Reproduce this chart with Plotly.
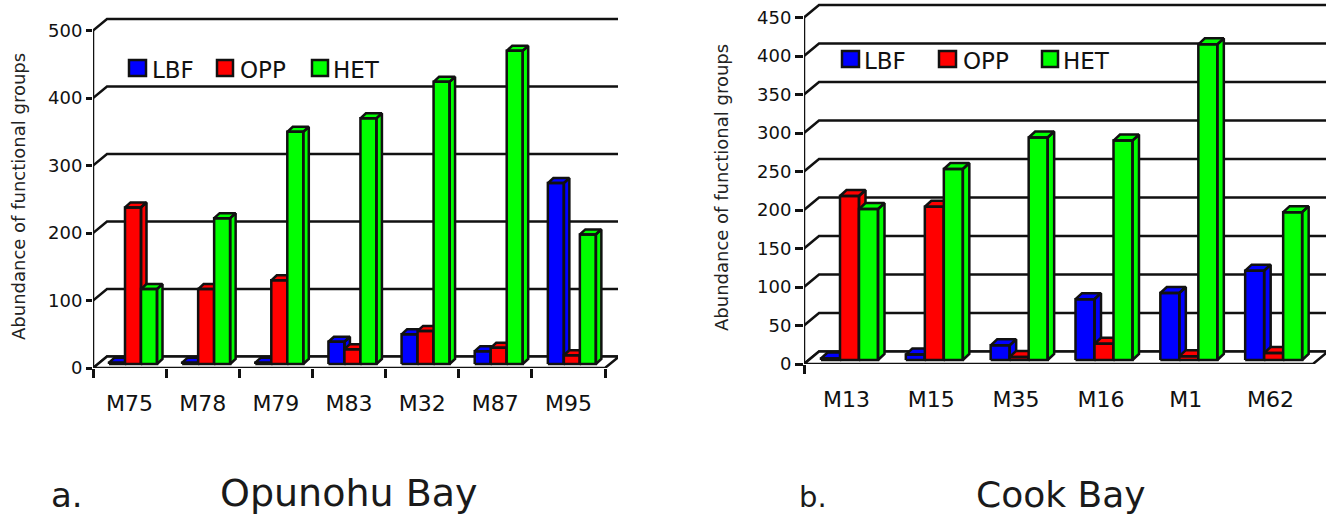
import plotly.graph_objects as go

W, H = 1330, 516

# ---- data ----
sites_a = ["M75", "M78", "M79", "M83", "M32", "M87", "M95"]
lbf_a = [2, 2, 2, 33, 44, 19, 268]
opp_a = [232, 111, 124, 22, 49, 24, 13]
het_a = [111, 216, 344, 364, 418, 464, 192]
yticks_a = [0, 100, 200, 300, 400, 500]

sites_b = ["M13", "M15", "M35", "M16", "M1", "M62"]
lbf_b = [2, 7, 19, 79, 87, 116]
opp_b = [213, 199, 4, 21, 5, 9]
het_b = [196, 248, 289, 285, 410, 192]
yticks_b = [0, 50, 100, 150, 200, 250, 300, 350, 400, 450]

groups = ["LBF", "OPP", "HET"]
colors = ["#0000ff", "#ff0000", "#00ff00"]
INK = "#111111"
FONT = "DejaVu Sans, Verdana, sans-serif"
LW = 2.5

fig = go.Figure()


def px_x(p):
    return p / W


def px_y(p):
    return 1 - p / H


def panel(ax, sites, series, yticks, box, geom, tick_at, legend_px, label_standoff):
    """box = pixel left, top, right, bottom of the plot; geom = pixel sizes of the 3-D look."""
    left, top, right, bottom = box
    front_right = geom["front_right"]
    ymax = yticks[-1]
    n = len(sites)
    sx = (front_right - left) / n            # pixels per category
    sy = geom["sy"]                          # pixels per unit
    dx = geom["wall_dx"] / sx
    dy = geom["wall_dy"] / sy
    xmax = (right - left) / sx
    ytop = (bottom - top) / sy
    suffix = "" if ax == 1 else str(ax)
    xa, ya = "x" + suffix, "y" + suffix

    # walls, grid, floor
    gx, gy = [], []
    for v in yticks:
        gx += [0, dx, xmax, None]
        gy += [v, v + dy, v + dy, None]
    fig.add_trace(go.Scatter(x=gx, y=gy, mode="lines", xaxis=xa, yaxis=ya, showlegend=False,
                             hoverinfo="skip", line=dict(color=INK, width=LW)))
    fig.add_trace(go.Scatter(x=[0, 0], y=[0, ymax], mode="lines", xaxis=xa, yaxis=ya, showlegend=False,
                             hoverinfo="skip", line=dict(color=INK, width=LW)))
    fig.add_trace(go.Scatter(x=[0, n, n + dx, dx, 0], y=[0, 0, dy, dy, 0], mode="lines", xaxis=xa, yaxis=ya,
                             showlegend=False, hoverinfo="skip", fill="toself", fillcolor="white",
                             line=dict(color=INK, width=LW)))

    # bars: front, side and top face, all derived from the values
    off = geom["bar_off"] / sx
    bw = geom["bar_w"] / sx
    lift = geom["bar_lift"] / sy
    bdx = geom["bar_dx"] / sx
    bdy = geom["bar_dy"] / sy
    for k, vals in enumerate(series):
        xs, ys = [], []
        for i, v in enumerate(vals):
            x0 = i + off + k * bw
            x1 = x0 + bw
            y0 = lift
            y1 = lift + v
            xs += [x1, x1 + bdx, x1 + bdx, x1, x1, None]
            ys += [y0, y0 + bdy, y1 + bdy, y1, y0, None]
            xs += [x0, x0 + bdx, x1 + bdx, x1, x0, None]
            ys += [y1, y1 + bdy, y1 + bdy, y1, y1, None]
            xs += [x0, x1, x1, x0, x0, None]
            ys += [y0, y0, y1, y1, y0, None]
        fig.add_trace(go.Scatter(x=xs, y=ys, mode="lines", fill="toself", fillcolor=colors[k], name=groups[k],
                                 xaxis=xa, yaxis=ya, showlegend=False, hoverinfo="skip",
                                 line=dict(color=INK, width=LW)))

    fig.update_layout({
        "xaxis" + suffix: dict(
            domain=[px_x(left), px_x(right)], range=[0, xmax], anchor=ya, showgrid=False, zeroline=False,
            showline=False, automargin=False, tickmode="array", tickvals=[i + 0.5 for i in range(n)],
            ticktext=sites, ticks="", ticklabelstandoff=label_standoff,
            tickfont=dict(family=FONT, size=22, color=INK),
            minor=dict(tickmode="array", tickvals=tick_at, ticks="outside", ticklen=9, tickwidth=LW,
                       tickcolor=INK, showgrid=False),
        ),
        "yaxis" + suffix: dict(
            domain=[px_y(bottom), px_y(top)], range=[0, ytop], anchor=xa, showgrid=False, zeroline=False,
            showline=False, automargin=False, tickmode="array", tickvals=yticks, ticks="outside",
            ticklen=geom["ticklen"], tickwidth=LW, tickcolor=INK, tickfont=dict(family=FONT, size=18, color=INK),
        ),
    })

    # y title
    fig.add_annotation(text="Abundance of functional groups", xref="paper", yref="paper",
                       x=px_x(geom["title_x"]), y=px_y(geom["title_y"]), textangle=-90,
                       xanchor="center", yanchor="middle", showarrow=False,
                       font=dict(family=FONT, size=18, color="#222222"))

    # legend keys
    for k, (sw0, sw1, ty, lab_x) in enumerate(legend_px):
        fig.add_shape(type="rect", xref="paper", yref="paper", x0=px_x(sw0), x1=px_x(sw1),
                      y0=px_y(ty + 8), y1=px_y(ty - 8), fillcolor=colors[k], line=dict(color=INK, width=LW))
        fig.add_annotation(text=groups[k], xref="paper", yref="paper", x=px_x(lab_x), y=px_y(ty + 2),
                           xanchor="left", yanchor="middle", showarrow=False,
                           font=dict(family=FONT, size=23, color=INK))


panel(1, sites_a, [lbf_a, opp_a, het_a], yticks_a, (93, 17, 618, 368),
      dict(front_right=605, sy=0.675, wall_dx=14, wall_dy=11.5, bar_off=16, bar_w=16, bar_lift=4,
           bar_dx=5.5, bar_dy=5, title_x=18, title_y=197, ticklen=6),
      list(range(8)), [(129, 146, 68, 149.5), (217, 233, 68, 237.5), (312, 328, 68, 330.5)], 20)

panel(2, sites_b, [lbf_b, opp_b, het_b], yticks_b, (804, 2, 1326, 364),
      dict(front_right=1313, sy=0.77, wall_dx=15, wall_dy=12.5, bar_off=17, bar_w=19, bar_lift=4,
           bar_dx=6.5, bar_dy=6, title_x=721, title_y=188, ticklen=8),
      [0], [(842, 859, 59, 861.5), (939, 956, 59, 960.5), (1042, 1058, 59, 1060.5)], 20)

for text, x, y, size in [("a.", 49, 495, 34), ("Opunohu Bay", 349, 493, 38),
                         ("b.", 797, 497, 29), ("Cook Bay", 1061, 494, 36)]:
    fig.add_annotation(text=text, xref="paper", yref="paper", x=px_x(x), y=px_y(y),
                       xanchor="left" if len(text) == 2 else "center", yanchor="middle", showarrow=False,
                       font=dict(family=FONT, size=size, color="#1a1a1a"))

fig.update_layout(width=W, height=H, margin=dict(l=0, r=0, t=0, b=0), showlegend=False,
                  paper_bgcolor="white", plot_bgcolor="white")

fig.write_html("out.html", post_script="document.body.style.margin='0';",
               config={"displayModeBar": False})
